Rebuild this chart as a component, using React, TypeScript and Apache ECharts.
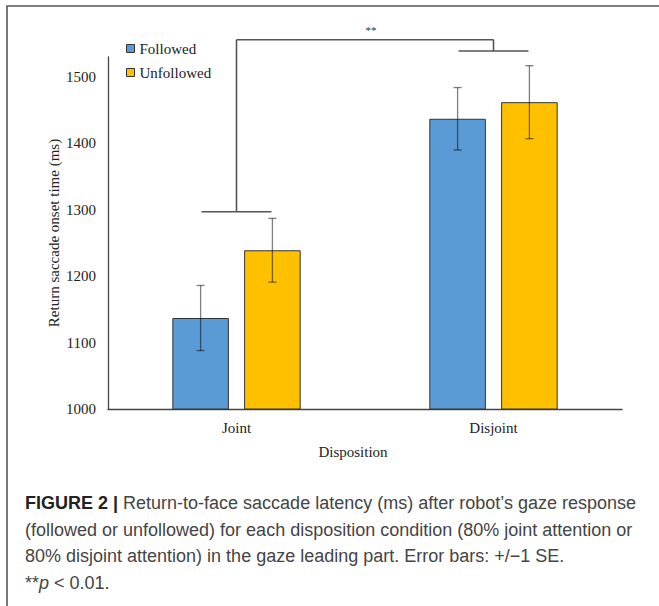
import React, { useEffect, useRef } from "react";
import * as echarts from "echarts";

const categories = ["Joint", "Disjoint"];
const seriesNames = ["Followed", "Unfollowed"];
const followedMeans = [1137, 1437];
const unfollowedMeans = [1239, 1462];
const followedSE = [49, 47];
const unfollowedSE = [48, 55];
const yMin = 1000;
const yMax = 1530;
const yInterval = 100;
const bracketJointLevel = 1297;
const bracketDisjointLevel = 1539;
const bracketTopLevel = 1556;
const significanceLabel = "**";
const yAxisTitle = "Return saccade onset time (ms)";
const xAxisTitle = "Disposition";

const BAR_FRAC = 0.22;
const GAP_FRAC = 0.27;
const SERIF = "'Liberation Serif', 'Times New Roman', serif";
const SANS = "'Liberation Sans', Arial, Helvetica, sans-serif";

function errorSeries(means: number[], ses: number[], sign: number) {
  return {
    type: "custom",
    silent: true,
    z: 5,
    clip: false,
    data: means.map((m, i) => [i, m, ses[i]]),
    renderItem: (params: any, api: any) => {
      const i = api.value(0);
      const m = api.value(1);
      const se = api.value(2);
      const band = api.size([1, 0])[0];
      const off = (sign * band * BAR_FRAC * (1 + GAP_FRAC)) / 2;
      const top = api.coord([i, m + se]);
      const bot = api.coord([i, m - se]);
      const x = top[0] + off;
      const cap = 4;
      const style = { stroke: "rgba(0,0,0,0.5)", lineWidth: 1.3 };
      return {
        type: "group",
        children: [
          { type: "line", shape: { x1: x, y1: top[1], x2: x, y2: bot[1] }, style },
          { type: "line", shape: { x1: x - cap, y1: top[1], x2: x + cap, y2: top[1] }, style },
          { type: "line", shape: { x1: x - cap, y1: bot[1], x2: x + cap, y2: bot[1] }, style },
        ],
      };
    },
  };
}

const bracketSeries = {
  type: "custom",
  silent: true,
  z: 6,
  clip: false,
  data: [[0, 1, bracketJointLevel, bracketDisjointLevel, bracketTopLevel]],
  renderItem: (params: any, api: any) => {
    const c0 = api.value(0);
    const c1 = api.value(1);
    const band = api.size([1, 0])[0];
    const half = band * 0.136;
    const j = api.coord([c0, api.value(2)]);
    const d = api.coord([c1, api.value(3)]);
    const tJ = api.coord([c0, api.value(4)]);
    const tD = api.coord([c1, api.value(4)]);
    const style = { stroke: "#555", lineWidth: 1.6 };
    return {
      type: "group",
      children: [
        { type: "line", shape: { x1: j[0] - half, y1: j[1], x2: j[0] + half, y2: j[1] }, style },
        { type: "line", shape: { x1: j[0], y1: j[1], x2: tJ[0], y2: tJ[1] }, style },
        { type: "line", shape: { x1: tJ[0], y1: tJ[1], x2: tD[0], y2: tD[1] }, style },
        { type: "line", shape: { x1: tD[0], y1: tD[1], x2: d[0], y2: d[1] }, style },
        { type: "line", shape: { x1: d[0] - half, y1: d[1], x2: d[0] + half, y2: d[1] }, style },
        {
          type: "text",
          style: {
            x: (tJ[0] + tD[0]) / 2 + 6,
            y: tJ[1] - 10,
            text: significanceLabel,
            fill: "#333",
            font: `11px ${SERIF}`,
            align: "center",
            verticalAlign: "middle",
          },
        },
      ],
    };
  },
};

export default function App() {
  const ref = useRef<HTMLDivElement>(null);
  useEffect(() => {
    document.body.style.margin = "0";
    if (!ref.current) return;
    const chart = echarts.init(ref.current, undefined, { renderer: "svg" });
    chart.setOption({
      animation: false,
      backgroundColor: "#fff",
      grid: { left: 108, right: 37, top: 57, bottom: 197 },
      legend: {
        data: seriesNames,
        orient: "vertical",
        left: 121,
        top: 36,
        itemWidth: 8,
        itemHeight: 8,
        itemGap: 9,
        icon: "rect",
        itemStyle: { borderColor: "#333", borderWidth: 1 },
        textStyle: { fontFamily: SERIF, fontSize: 15, color: "#222" },
      },
      xAxis: {
        type: "category",
        data: categories,
        axisLine: { lineStyle: { color: "#444", width: 1.3 } },
        axisTick: { show: false },
        axisLabel: { fontFamily: SERIF, fontSize: 15, color: "#222", margin: 11 },
        name: xAxisTitle,
        nameLocation: "middle",
        nameGap: 35,
        nameMoveOverlap: false,
        nameTextStyle: { fontFamily: SERIF, fontSize: 15, color: "#222", padding: [0, 24, 0, 0] },
      },
      yAxis: {
        type: "value",
        min: yMin,
        max: yMax,
        interval: yInterval,
        axisLine: { show: true, lineStyle: { color: "#444", width: 1.3 } },
        axisTick: { show: false },
        splitLine: { show: false },
        axisLabel: {
          fontFamily: SERIF,
          fontSize: 15,
          color: "#222",
          margin: 12,
          showMaxLabel: false,
          formatter: (v: number) => (v % yInterval === 0 ? String(v) : ""),
        },
        name: yAxisTitle,
        nameLocation: "middle",
        nameGap: 47,
        nameMoveOverlap: false,
        nameTextStyle: { fontFamily: SERIF, fontSize: 15, color: "#222" },
      },
      series: [
        {
          name: seriesNames[0],
          type: "bar",
          data: followedMeans,
          barWidth: `${BAR_FRAC * 100}%`,
          barGap: `${GAP_FRAC * 100}%`,
          itemStyle: { color: "#5B9BD5", borderColor: "#333", borderWidth: 1 },
        },
        {
          name: seriesNames[1],
          type: "bar",
          data: unfollowedMeans,
          barWidth: `${BAR_FRAC * 100}%`,
          barGap: `${GAP_FRAC * 100}%`,
          itemStyle: { color: "#FFC000", borderColor: "#333", borderWidth: 1 },
        },
        errorSeries(followedMeans, followedSE, -1),
        errorSeries(unfollowedMeans, unfollowedSE, 1),
        bracketSeries,
      ],
      graphic: [
        {
          type: "rect",
          shape: { x: 7, y: 6, width: 800, height: 800 },
          style: { fill: "none", stroke: "#555", lineWidth: 1.6 },
          silent: true,
        },
        {
          type: "text",
          x: 25,
          y: 490,
          silent: true,
          style: {
            text:
              "{b|FIGURE 2 |} Return-to-face saccade latency (ms) after robot\u2019s gaze response\n" +
              "(followed or unfollowed) for each disposition condition (80% joint attention or\n" +
              "80% disjoint attention) in the gaze leading part. Error bars: +/\u22121 SE.\n" +
              "**{i|p} < 0.01.",
            font: `18px ${SANS}`,
            fill: "#444",
            lineHeight: 26.5,
            verticalAlign: "top",
            rich: {
              b: { fontFamily: SANS, fontSize: 18, fontWeight: "bold", fill: "#222", lineHeight: 26.5 },
              i: { fontFamily: SANS, fontSize: 18, fontStyle: "italic", fill: "#444", lineHeight: 26.5 },
            },
          },
        },
      ],
    });
    return () => chart.dispose();
  }, []);
  return <div ref={ref} style={{ width: 659, height: 606 }} />;
}
